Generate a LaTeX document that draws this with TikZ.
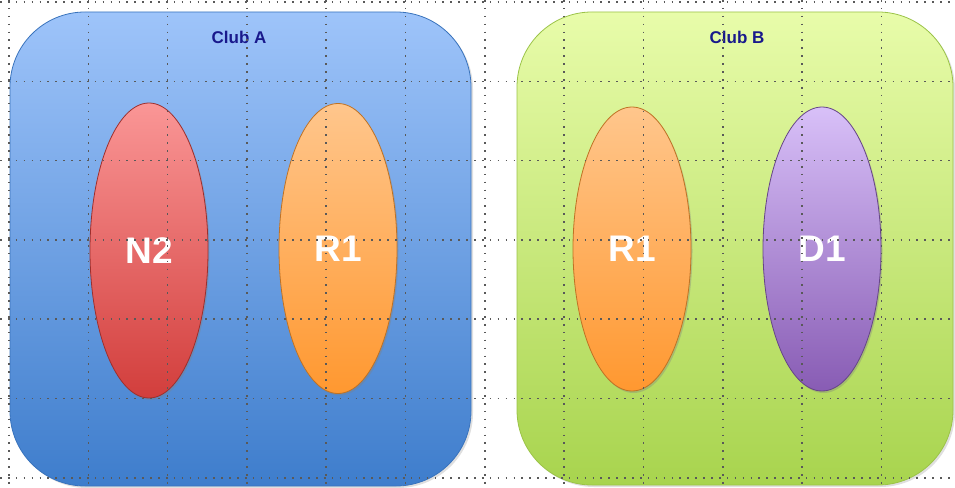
\documentclass[tikz,border=0pt]{standalone}
\usepackage{fontspec}
\setmainfont{Liberation Sans}
\usetikzlibrary{shapes.geometric,shadows}
\definecolor{titleblue}{RGB}{25,25,140}
\definecolor{blueTop}{RGB}{158,196,250}
\definecolor{blueBot}{RGB}{62,125,204}
\definecolor{greenTop}{RGB}{232,252,170}
\definecolor{greenBot}{RGB}{168,212,78}
\definecolor{redTop}{RGB}{250,150,150}
\definecolor{redBot}{RGB}{210,62,60}
\definecolor{orangeTop}{RGB}{255,198,140}
\definecolor{orangeBot}{RGB}{255,152,48}
\definecolor{purpleTop}{RGB}{216,192,248}
\definecolor{purpleBot}{RGB}{136,92,180}
\tikzset{
  club/.style 2 args={rectangle, rounded corners=75pt, inner sep=0pt, outer sep=0pt,
    top color=#1, bottom color=#2, draw=#2!92!black, line width=0.8pt,
    drop shadow={opacity=0.25, shadow xshift=2pt, shadow yshift=-2pt}},
  member/.style 2 args={ellipse, inner sep=0pt, minimum width=118pt, minimum height=290pt,
    top color=#1, bottom color=#2, draw=#2!75!black, line width=0.8pt,
    drop shadow={opacity=0.35, shadow xshift=1.5pt, shadow yshift=-2pt},
    text=white, font=\bfseries\fontsize{37}{40}\selectfont},
  clubname/.style={text=titleblue, font=\bfseries\fontsize{17}{19}\selectfont},
  gridline/.style={black!65, line width=1.6pt, dash pattern=on 1.6pt off 6.3pt}
}
\begin{document}
\begin{tikzpicture}[x=1pt,y=-1pt]
\useasboundingbox (0,0) rectangle (955,487);
\node[club={blueTop}{blueBot}, minimum width=461pt, minimum height=474pt] (clubA) at (240.5,249) {};
\node[club={greenTop}{greenBot}, minimum width=436pt, minimum height=473pt] (clubB) at (735,248.5) {};
\node[clubname] (nameA) at (239,37) {Club A};
\node[clubname] (nameB) at (737,37) {Club B};
\node[member={redTop}{redBot}, minimum height=295pt] (n2) at (149,250.5) {N2};
\node[member={orangeTop}{orangeBot}] (r1a) at (338,248.5) {R1};
\node[member={orangeTop}{orangeBot}, minimum height=284pt] (r1b) at (632,249) {R1};
\node[member={purpleTop}{purpleBot}, minimum height=284pt] (d1) at (822,249) {D1};
\foreach \gx in {0,...,11}
  \draw[gridline] (9+79.3*\gx,0) -- (9+79.3*\gx,487);
\foreach \gy in {0,...,6}
  \draw[gridline] (0,2+79.3*\gy) -- (955,2+79.3*\gy);
\end{tikzpicture}
\end{document}
